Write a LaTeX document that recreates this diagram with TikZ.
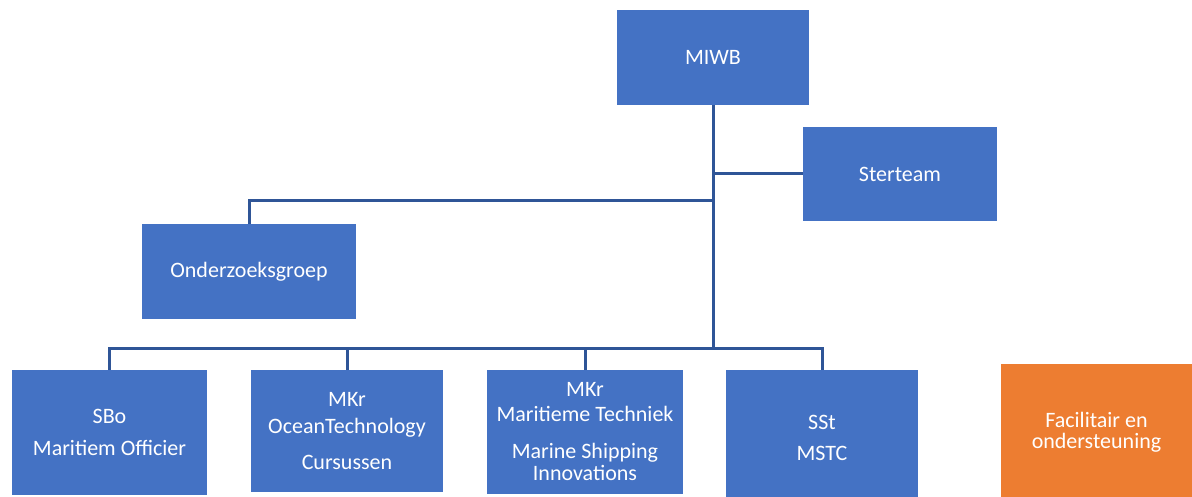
\documentclass[tikz,border=0pt]{standalone}
\usepackage{fontspec}
\setmainfont{Carlito}
\usetikzlibrary{positioning}
\definecolor{boxblue}{HTML}{4472C4}
\definecolor{lineblue}{HTML}{2F5597}
\definecolor{boxorange}{HTML}{ED7D31}
\tikzset{
  unit/.style={fill=boxblue, text=white, align=center, inner sep=0pt,
    font=\fontsize{22}{25}\selectfont},
  support/.style={unit, fill=boxorange},
  link/.style={lineblue, line width=3pt},
}
\begin{document}
\begin{tikzpicture}[x=1pt,y=-1pt]
\useasboundingbox (0,0) rectangle (1192,497);
% management
\node[unit, minimum width=192pt, minimum height=95pt] (miwb) at (713,57.5) {MIWB};
\node[unit, minimum width=194pt, minimum height=94pt] (ster) at (900,174) {Sterteam};
\node[unit, minimum width=214pt, minimum height=95pt] (onder) at (249,271.5) {Onderzoeksgroep};

% departments
\node[unit, minimum width=195pt, minimum height=125pt] (sbo) at (109.5,432.5) {SBo\\[7pt]Maritiem Officier};
\node[unit, minimum width=192pt, minimum height=122pt] (ocean) at (347,431) {MKr\\[2pt]OceanTechnology\\[11pt]Cursussen};
\node[unit, minimum width=196pt, minimum height=124pt] (mar) at (585,432) {MKr\\Maritieme Techniek\\[12pt]Marine Shipping\\[-3pt]Innovations};
\node[unit, minimum width=192pt, minimum height=135pt] (sst) at (822,437.5) {SSt\\[6pt]MSTC};
\node[support, minimum width=191pt, minimum height=137pt] (fac) at (1096.5,432.5) {Facilitair en\\[-4pt]ondersteuning};

% connectors
\coordinate (split) at (713,201);
\coordinate (bus) at (713,348);
\draw[link] (miwb.south) -- (bus);
\draw[link] (miwb.south |- ster.west) -- (ster.west);
\draw[link] (split) -| (onder.north);
\draw[link] (sbo.north) |- (bus) -| (sst.north);
\foreach \n in {ocean,mar}
  \draw[link] (\n.north) -- (\n.north |- bus);
\end{tikzpicture}
\end{document}
